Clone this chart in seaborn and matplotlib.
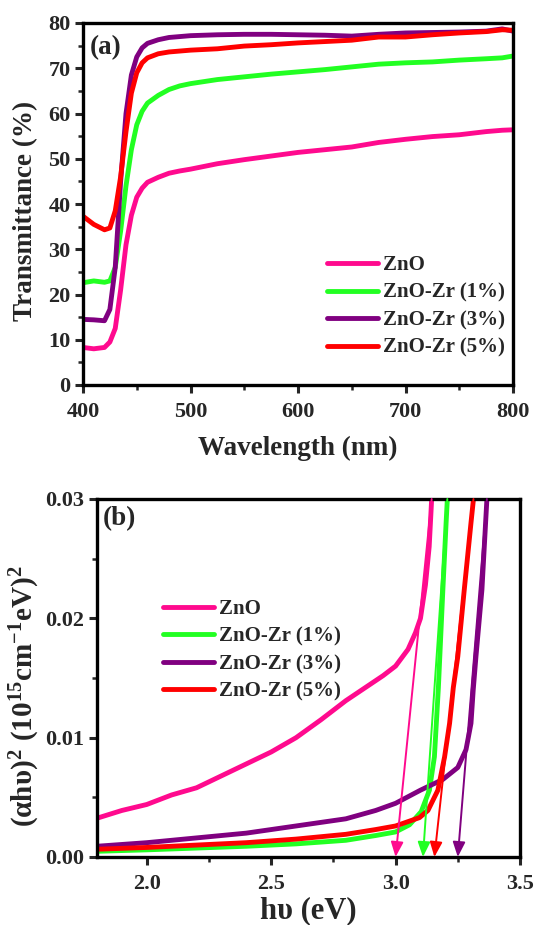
import numpy as np
import pandas as pd
import matplotlib
matplotlib.use("Agg")
import matplotlib.pyplot as plt
import seaborn as sns
from matplotlib.ticker import MultipleLocator, FormatStrFormatter

# ---------------- data ----------------
series = ["ZnO", "ZnO-Zr (1%)", "ZnO-Zr (3%)", "ZnO-Zr (5%)"]
colors = ["#FF0A8E", "#22FF22", "#800080", "#FF0000"]

# panel (a): transmittance vs wavelength
wl = [400, 410, 420, 425, 430, 435, 440, 445, 450, 455, 460, 470, 480, 490, 500,
      525, 550, 575, 600, 625, 650, 675, 700, 725, 750, 775, 790, 800]
t_zno = [8.3, 8.0, 8.3, 9.5, 12.5, 21.0, 31.0, 37.5, 41.5, 43.5, 44.8, 45.9, 46.8, 47.3, 47.7,
         48.9, 49.8, 50.6, 51.4, 52.0, 52.6, 53.6, 54.3, 54.9, 55.3, 56.0, 56.3, 56.4]
t_zr1 = [22.6, 23.0, 22.7, 23.0, 26.0, 34.0, 44.0, 52.0, 57.5, 60.5, 62.3, 64.0, 65.3, 66.1, 66.6,
         67.5, 68.1, 68.7, 69.2, 69.7, 70.3, 70.9, 71.2, 71.4, 71.8, 72.1, 72.3, 72.7]
t_zr3 = [14.5, 14.4, 14.2, 16.7, 26.0, 45.0, 60.0, 68.5, 72.5, 74.5, 75.5, 76.3, 76.8, 77.0, 77.2,
         77.4, 77.5, 77.5, 77.4, 77.3, 77.1, 77.5, 77.8, 77.9, 78.0, 78.2, 78.7, 78.2]
t_zr5 = [37.3, 35.5, 34.3, 34.7, 38.5, 46.0, 56.0, 64.5, 69.0, 71.2, 72.3, 73.2, 73.6, 73.8, 74.0,
         74.3, 74.9, 75.2, 75.6, 75.9, 76.2, 76.9, 76.9, 77.4, 77.8, 78.1, 78.5, 78.4]

# panel (b): Tauc plot
e_zno = [1.8, 1.9, 2.0, 2.1, 2.2, 2.3, 2.4, 2.5, 2.6, 2.7, 2.8, 2.9, 2.95, 3.0, 3.05, 3.08, 3.1, 3.12, 3.135, 3.145]
a_zno = [0.00325, 0.0039, 0.0044, 0.0052, 0.0058, 0.0068, 0.0078, 0.0088, 0.0100, 0.0115, 0.0131,
         0.0145, 0.0152, 0.0160, 0.0174, 0.0188, 0.0200, 0.0228, 0.0260, 0.0300]
e_zr1 = [1.8, 2.0, 2.2, 2.4, 2.6, 2.8, 2.92, 3.0, 3.056, 3.103, 3.136, 3.156, 3.172, 3.19, 3.203, 3.208]
a_zr1 = [0.00048, 0.0006, 0.00075, 0.0009, 0.0011, 0.0014, 0.0018, 0.0021, 0.0027, 0.0038,
         0.0056, 0.0084, 0.0142, 0.0224, 0.0280, 0.0300]
e_zr3 = [1.8, 2.0, 2.2, 2.4, 2.6, 2.8, 2.92, 3.0, 3.1, 3.19, 3.25, 3.283, 3.303, 3.312, 3.323, 3.347, 3.367]
a_zr3 = [0.0009, 0.0012, 0.0016, 0.0020, 0.0026, 0.0032, 0.0039, 0.0045, 0.0056, 0.0065, 0.0075,
         0.0090, 0.0112, 0.0140, 0.0168, 0.0224, 0.0300]
e_zr5 = [1.8, 2.0, 2.2, 2.4, 2.6, 2.8, 2.92, 3.0, 3.096, 3.13, 3.17, 3.197, 3.217, 3.232, 3.25, 3.276, 3.303, 3.313]
a_zr5 = [0.00065, 0.0008, 0.0010, 0.0012, 0.0015, 0.0019, 0.0023, 0.0026, 0.0033, 0.0039, 0.0056,
         0.0084, 0.0112, 0.0142, 0.0168, 0.0224, 0.0280, 0.0300]

# band-gap tangent lines per series: start (top of steep edge) and x-intercept (Eg)
tan_top = [3.145, 3.208, 3.367, 3.313]
band_gap = [3.00, 3.11, 3.25, 3.156]

# ---------------- style ----------------
sns.set_style("ticks")
plt.rcParams.update({
    "font.family": ["Liberation Serif", "DejaVu Serif"],
    "font.weight": "bold",
    "axes.labelweight": "bold",
    "mathtext.fontset": "custom",
    "mathtext.rm": "Liberation Serif:bold",
    "mathtext.it": "Liberation Serif:bold",
    "mathtext.bf": "Liberation Serif:bold",
    "axes.linewidth": 2.4,
    "axes.edgecolor": "black",
})

pal = dict(zip(series, colors))

dfa = pd.concat([
    pd.DataFrame({"wl": wl, "T": t, "s": s})
    for t, s in zip([t_zno, t_zr1, t_zr3, t_zr5], series)
])
dfb = pd.concat([
    pd.DataFrame({"E": e, "A": a, "s": s})
    for e, a, s in zip([e_zno, e_zr1, e_zr3, e_zr5], [a_zno, a_zr1, a_zr3, a_zr5], series)
])

fig = plt.figure(figsize=(5.4, 9.25), dpi=100)
ax1 = fig.add_axes([83 / 540, 1 - 385 / 925, 430 / 540, 362 / 925])
ax2 = fig.add_axes([97 / 540, 1 - 857 / 925, 423 / 540, 358 / 925])

sns.lineplot(data=dfa, x="wl", y="T", hue="s", hue_order=series, palette=pal,
             estimator=None, lw=3.5, legend=False, ax=ax1)
sns.lineplot(data=dfb, x="E", y="A", hue="s", hue_order=series, palette=pal,
             estimator=None, lw=3.5, legend=False, ax=ax2)

for ax in (ax1, ax2):
    for ln in ax.lines:
        ln.set_solid_capstyle("round")
    ax.tick_params(which="both", direction="out", top=False, right=False,
                   labelsize=16)
    ax.tick_params(axis="x", which="major", pad=6)
    ax.tick_params(axis="y", which="major", pad=3)
    ax.tick_params(which="major", length=6, width=2.2)
    ax.tick_params(which="minor", length=3.5, width=1.8)
    for sp in ax.spines.values():
        sp.set_visible(True)
        sp.set_linewidth(2.4)

# panel (a) axes
ax1.set_xlim(400, 800)
ax1.set_ylim(0, 80)
ax1.xaxis.set_major_locator(MultipleLocator(100))
ax1.xaxis.set_minor_locator(MultipleLocator(50))
ax1.yaxis.set_major_locator(MultipleLocator(10))
ax1.yaxis.set_minor_locator(MultipleLocator(5))
ax1.set_xlabel("Wavelength (nm)", fontsize=19.5, fontweight="bold", labelpad=10)
ax1.set_ylabel("Transmittance (%)", fontsize=19.5, fontweight="bold")
ax1.yaxis.set_label_coords(-0.105, 0.48)
ax1.text(0.016, 0.931, "(a)", transform=ax1.transAxes, fontsize=19.5,
         fontweight="bold", va="center", ha="left")
ax1.legend(handles=ax1.lines[:4], labels=series, loc="upper left",
           bbox_to_anchor=(0.567, 0.358), frameon=False, fontsize=15,
           handlelength=2.45, handletextpad=0.25, labelspacing=0.36,
           borderpad=0, borderaxespad=0)

# panel (b) axes
ax2.set_xlim(1.8, 3.5)
ax2.set_ylim(0, 0.03)
ax2.xaxis.set_major_locator(MultipleLocator(0.5))
ax2.xaxis.set_minor_locator(MultipleLocator(0.25))
ax2.yaxis.set_major_locator(MultipleLocator(0.01))
ax2.yaxis.set_minor_locator(MultipleLocator(0.005))
ax2.xaxis.set_major_formatter(FormatStrFormatter("%.1f"))
ax2.yaxis.set_major_formatter(FormatStrFormatter("%.2f"))
ax2.set_xlabel("h\u03c5 (eV)", fontsize=22, fontweight="bold", labelpad=2)
ax2.set_ylabel(r"$\mathrm{(\alpha h\upsilon)^2\ (10^{15}cm^{-1}eV)^2}$", fontsize=21)
ax2.yaxis.set_label_coords(-0.13, 0.45)
ax2.text(0.014, 0.944, "(b)", transform=ax2.transAxes, fontsize=19.5,
         fontweight="bold", va="center", ha="left")
ax2.legend(handles=ax2.lines[:4], labels=series, loc="upper left",
           bbox_to_anchor=(0.156, 0.72), frameon=False, fontsize=15,
           handlelength=2.45, handletextpad=0.25, labelspacing=0.36,
           borderpad=0, borderaxespad=0)

for x0, x1, c in zip(tan_top, band_gap, colors):
    ax2.annotate("", xy=(x1, 0.0), xytext=(x0, 0.03),
                 arrowprops=dict(arrowstyle="-|>,head_length=0.6,head_width=0.25",
                                 color=c, lw=1.4, shrinkA=0, shrinkB=0,
                                 mutation_scale=15),
                 annotation_clip=False)

fig.savefig("out.png", dpi=100)
